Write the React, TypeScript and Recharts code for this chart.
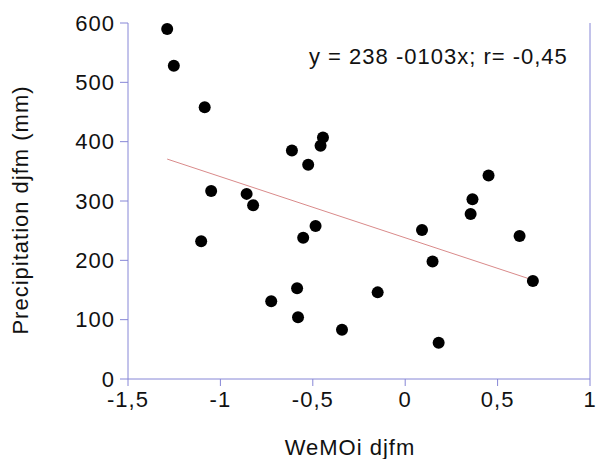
import { ScatterChart, Scatter, XAxis, YAxis, ReferenceLine, Label } from "recharts";

// WeMOi djfm vs precipitation djfm (mm)
const wemoi = [
    -1.288, -1.252, -1.104, -1.085, -1.05, -0.858, -0.823, -0.725, -0.613, -0.585, -0.58, -0.552, -0.525,
    -0.485, -0.458, -0.445, -0.342, -0.149, 0.091, 0.148, 0.181, 0.354, 0.364, 0.451, 0.619, 0.691,
];
const precip = [
    590, 528, 232, 458, 317, 312, 293, 131, 385, 153, 104, 238, 361,
    258, 393, 407, 83, 146, 251, 198, 61, 278, 303, 343, 241, 165,
];
const xTicks = [-1.5, -1, -0.5, 0, 0.5, 1];
const yTicks = [0, 100, 200, 300, 400, 500, 600];
const intercept = 238;
const slope = -103;
const fitText = "y = 238 -0103x; r= -0,45";

const axisColor = "#8686d6";
const font = "'Liberation Sans', Arial, sans-serif";

const points = wemoi.map((x, i) => ({ x, y: precip[i] }));
const xMin = Math.min(...wemoi);
const xMax = Math.max(...wemoi);

const tickStyle = { fontSize: 22, fill: "#111", fontFamily: font, letterSpacing: 1 };
const comma = (v: number) => String(v).replace(".", ",");

export default function App() {
    return (
        <div style={{ position: "absolute", left: 0, top: 0, width: 597, height: 459, background: "#fff" }}>
            <ScatterChart width={597} height={459} margin={{ top: 23, right: 0, bottom: 0, left: 0 }}>
                <XAxis
                    type="number"
                    dataKey="x"
                    domain={[-1.5, 1]}
                    ticks={xTicks}
                    tickFormatter={comma}
                    height={80}
                    stroke={axisColor}
                    tickSize={7}
                    tickMargin={5}
                    tick={tickStyle}
                >
                    <Label
                        value="WeMOi djfm"
                        position="insideBottom"
                        offset={4}
                        dx={-9}
                        style={{ fontSize: 22, fill: "#111", fontFamily: font, letterSpacing: 1 }}
                    />
                </XAxis>
                <XAxis
                    xAxisId="top"
                    orientation="top"
                    type="number"
                    domain={[-1.5, 1]}
                    ticks={xTicks}
                    height={0}
                    stroke={axisColor}
                    tickSize={7}
                    tick={false}
                />
                <YAxis
                    type="number"
                    dataKey="y"
                    domain={[0, 600]}
                    ticks={yTicks}
                    width={128}
                    stroke={axisColor}
                    tickSize={8}
                    tickMargin={5}
                    tick={tickStyle}
                    label={{
                        content: () => (
                            <text
                                x={28}
                                y={210}
                                transform="rotate(-90 28 210)"
                                textAnchor="middle"
                                style={{ fontSize: 22, fill: "#111", fontFamily: font, letterSpacing: 1 }}
                            >
                                Precipitation djfm (mm)
                            </text>
                        ),
                    }}
                />
                <YAxis
                    yAxisId="right"
                    orientation="right"
                    type="number"
                    domain={[0, 600]}
                    ticks={yTicks}
                    width={7}
                    stroke={axisColor}
                    tickSize={7}
                    tick={false}
                />
                <ReferenceLine
                    segment={[
                        { x: xMin, y: intercept + slope * xMin },
                        { x: xMax, y: intercept + slope * xMax },
                    ]}
                    stroke="#d98a8a"
                    strokeWidth={1}
                />
                <Scatter
                    data={points}
                    isAnimationActive={false}
                    shape={(p: any) => <circle cx={p.cx} cy={p.cy} r={6} fill="#000" />}
                />
            </ScatterChart>
            <div
                style={{
                    position: "absolute",
                    left: 309,
                    top: 46,
                    fontSize: 22,
                    lineHeight: "22px",
                    fontFamily: font,
                    letterSpacing: 1,
                    color: "#111",
                    whiteSpace: "nowrap",
                }}
            >
                {fitText}
            </div>
        </div>
    );
}
